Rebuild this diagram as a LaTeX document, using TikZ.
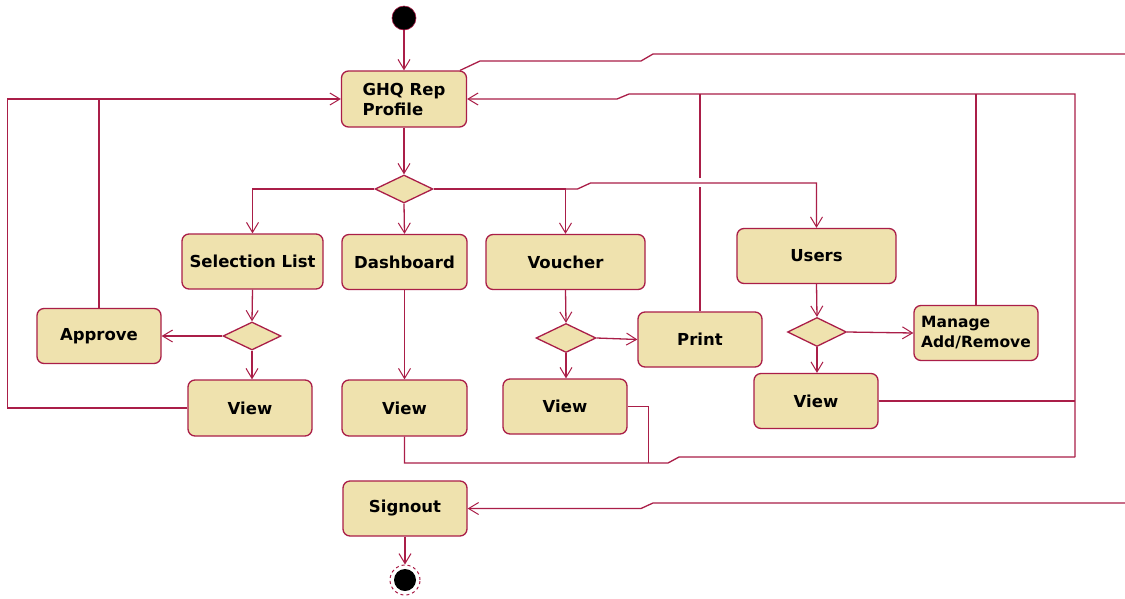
\documentclass[tikz,border=0pt]{standalone}
\usepackage{fontspec}
\setmainfont{DejaVu Sans}
\usetikzlibrary{arrows.meta,shapes.geometric,calc}
\definecolor{wire}{RGB}{170,30,72}
\definecolor{act}{RGB}{239,226,174}
\begin{document}
\begin{tikzpicture}[x=1pt,y=-1pt,
  wire/.style={draw=wire,line width=1.3pt},
  flow/.style={wire,-{Straight Barb[length=10pt,width=12pt,line width=1pt]}},
  activity/.style={draw=wire,fill=act,line width=1.3pt,rounded corners=7pt,
    minimum width=124pt,minimum height=55pt,inner sep=0pt,
    font=\bfseries\fontsize{16.5}{20}\selectfont,align=center},
  branch/.style={diamond,draw=wire,fill=act,line width=1.3pt,aspect=2,
    minimum width=58pt,minimum height=28pt,inner sep=0pt},
]
\fill[white] (0,0) rectangle (1125,598);
\useasboundingbox (0,0) rectangle (1125,598);

% initial and final states
\node[circle,fill=black,draw=wire,line width=0.6pt,minimum size=24pt,inner sep=0pt] (start) at (404,18) {};
\node[circle,draw=wire,dashed,line width=1pt,minimum size=30pt,inner sep=0pt] (endc) at (405,580) {};
\fill[black] (endc.center) circle[radius=11pt];

% activities
\node[activity,minimum width=125pt,minimum height=56pt,align=left] (ghq) at (404,99) {GHQ Rep\\Profile};
\node[activity,minimum width=141pt] (sel) at (252.5,261.5) {Selection List};
\node[activity,minimum width=125pt] (dash) at (404.5,262) {Dashboard};
\node[activity,minimum width=159pt] (vou) at (565.5,262) {Voucher};
\node[activity,minimum width=159pt] (users) at (816.5,256) {Users};
\node[activity] (appr) at (99,336) {Approve};
\node[activity,minimum height=56pt] (view1) at (250,408) {View};
\node[activity,minimum width=125pt,minimum height=56pt] (view2) at (404.5,408) {View};
\node[activity] (print) at (700,339.5) {Print};
\node[activity] (view3) at (565,406.5) {View};
\node[activity,align=left,font=\bfseries\fontsize{15.5}{20}\selectfont] (manage) at (976,333) {Manage\\Add/Remove};
\node[activity] (view4) at (816,401) {View};
\node[activity] (signout) at (405,508.5) {Signout};

% decisions
\node[branch] (d1) at (404,189) {};
\node[branch] (d2) at (252,336) {};
\node[branch,minimum width=60pt,minimum height=29pt] (d3) at (566,338) {};
\node[branch,minimum width=59pt,minimum height=29pt] (d4) at (817,332) {};

% junction points of the return lines
\coordinate (ne) at (1075,94);
\coordinate (se) at (1075,457);

% main flow
\draw[flow] (start) -- (ghq.north);
\draw[flow] (ghq.south) -- (d1.north);
\draw[flow] (d1.west) -| (sel.north);
\draw[flow] (d1.south) -- (dash.north);
\draw[flow] (d1.east) -| (vou.north);

% print line, broken where the users branch passes over it
\draw[wire] (print.north) -- (print.north |- 0,187);
\draw[wire] (print.north |- 0,178) -- (print.north |- ne);
\draw[flow] (vou.north |- d1.east) -- ++(12,0) -- ++(13,-6) -| (users.north);

\draw[flow] (sel.south) -- (d2.north);
\draw[flow] (d2.west) -- (appr.east);
\draw[flow] (d2.south) -- (d2.south |- view1.north);
\draw[flow] (dash.south) -- (view2.north);
\draw[flow] (vou.south) -- (d3.north);
\draw[flow] (d3.east) -- (print.west);
\draw[flow] (d3.south) -- (d3.south |- view3.north);
\draw[flow] (users.south) -- (d4.north);
\draw[flow] (d4.east) -- (manage.west);
\draw[flow] (d4.south) -- (d4.south |- view4.north);
\draw[flow] (signout.south) -- (endc.north);

% returns to the profile
\draw[flow] (view1.west) -- ++(-180,0) |- (ghq.west);
\draw[wire] (appr.north) -- (appr.north |- ghq.west);
\draw[flow] (se) -- (ne) -- (629,94) -- (617,99) -- (ghq.east);
\draw[wire] (manage.north) -- (manage.north |- ne);
\draw[wire] (view4.east) -- (view4.east -| se);
\draw[wire] (se) -- (679,457) -- (668,463) -| (view2.south);
\draw[wire] (view3.east) -- ++(21,0) -- ++(0,56.5);

% profile to signout, running off the right edge
\begin{scope}
\clip (0,0) rectangle (1125,598);
\draw[flow] ($(ghq.north east)+(-7,0)$) -- (480,61) -- (641,61) -- (653,54)
  -- (1140,54) -- (1140,503) -- (653,503) -- (641,508.5) -- (signout.east);
\end{scope}
\end{tikzpicture}
\end{document}
